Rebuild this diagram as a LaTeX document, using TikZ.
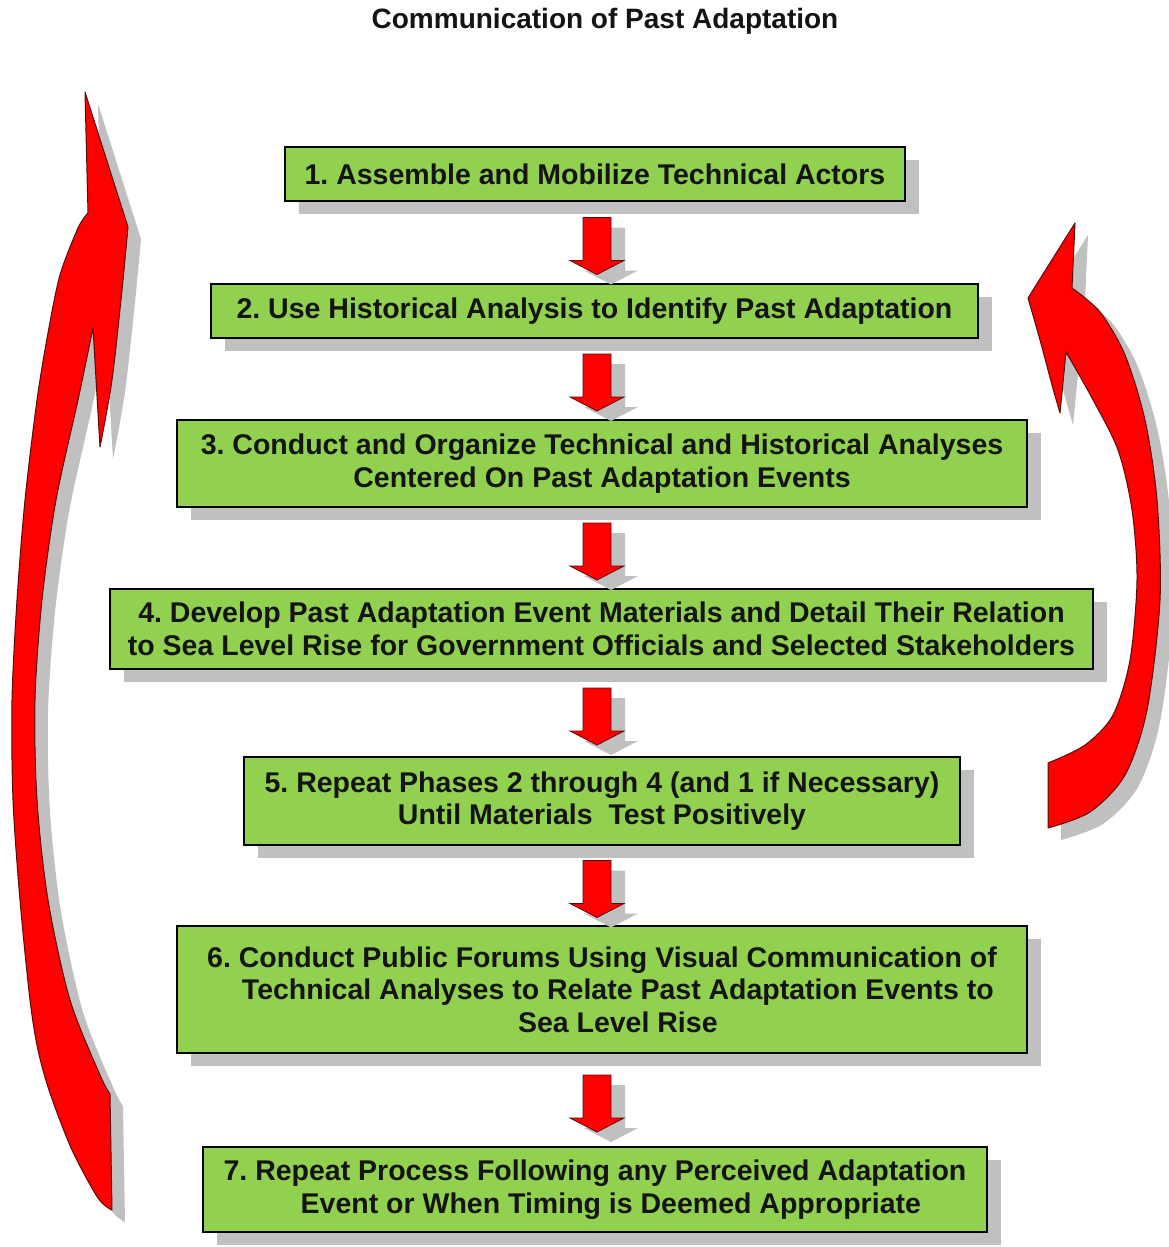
\documentclass[tikz,border=0pt]{standalone}
\usepackage{fontspec}
\setmainfont{Liberation Sans}
\usetikzlibrary{calc,shadows}
\frenchspacing
\definecolor{boxgreen}{RGB}{146,208,80}
\definecolor{shadowgray}{RGB}{192,192,192}
\definecolor{arrred}{RGB}{255,0,0}
\definecolor{arredge}{RGB}{90,10,10}
\definecolor{txt}{RGB}{20,20,20}
\newcommand\LoopArrowL{(85,92) -- (128,227)
  -- plot[smooth] coordinates {(128,227) (122,290) (112,380) (100,447)}
  -- (93,328)
  -- plot[smooth] coordinates {(93,328) (78,400) (56,500) (42,600) (35,700) (37,800) (48,900) (70,1000) (100,1075) (110,1094)}
  -- (112,1210)
  -- plot[smooth] coordinates {(112,1210) (98,1198) (72,1150) (50,1093) (38,1050) (30,1000) (20,900) (13,800) (12,700) (17,600) (25,500) (37,400) (48,333) (60,275) (78,228) (88,213)}
  -- cycle}
\newcommand\LoopArrowR{(1075,223) -- (1028,298)
  -- plot[smooth] coordinates {(1028,298) (1040,340) (1052,385) (1060,413)}
  -- (1066,352)
  -- plot[smooth] coordinates {(1066,352) (1092,398) (1118,450) (1132,510) (1137,580) (1130,660) (1113,715) (1085,745) (1048,763)}
  -- (1048,828)
  -- plot[smooth] coordinates {(1048,828) (1090,812) (1125,775) (1147,710) (1160,600) (1157,500) (1145,420) (1125,355) (1100,312) (1072,288)}
  -- cycle}
\begin{document}
\begin{tikzpicture}[x=1pt,y=-1pt,
  stepbox/.style={draw=black, line width=2.5pt, fill=boxgreen, align=center,
    font=\bfseries\fontsize{28.5}{32.5}\selectfont, text=txt, inner sep=0pt,
    general shadow={fill=shadowgray, shadow xshift=14pt, shadow yshift=-13pt}},
  bigarrow/.style={fill=arrred, draw=arredge, line width=1pt, line join=round},
  bigshadow/.style={fill=shadowgray},
  downarr/.pic={
    \fill[shadowgray, shift={(14,14)}] (-14,-29) -- (14,-29) -- (14,14) -- (27,14) -- (0,28) -- (-27,14) -- (-14,14) -- cycle;
    \filldraw[fill=arrred, draw=arredge, line width=0.8pt, line join=miter, shift={(0,4)}] (-14,-29) -- (14,-29) -- (14,14) -- (27,14) -- (0,28) -- (-27,14) -- (-14,14) -- cycle;
  }]
\useasboundingbox[fill=white] (0,0) rectangle (1169,1247);

% looping arrows (shadow first)
\fill[bigshadow, shift={(13,12)}] \LoopArrowL;
\fill[bigshadow, shift={(13,12)}] \LoopArrowR;
\filldraw[bigarrow] \LoopArrowL;
\filldraw[bigarrow] \LoopArrowR;

\node[font=\bfseries\fontsize{28}{32}\selectfont, text=txt] (title) at (605,21) {Communication of Past Adaptation};

\node[stepbox, minimum width=620pt, minimum height=54pt] (b1) at (595,174)
  {1. Assemble and Mobilize Technical Actors};
\node[stepbox, minimum width=767pt, minimum height=54pt] (b2) at (594.5,311)
  {2. Use Historical Analysis to Identify Past Adaptation};
\node[stepbox, minimum width=850pt, minimum height=87pt] (b3) at (602,463.5)
  {3. Conduct and Organize Technical and Historical Analyses\\Centered On Past Adaptation Events};
\node[stepbox, minimum width=983pt, minimum height=80pt] (b4) at (601.5,629)
  {4. Develop Past Adaptation Event Materials and Detail Their Relation\\to Sea Level Rise for Government Officials and Selected Stakeholders};
\node[stepbox, minimum width=716pt, minimum height=88pt] (b5) at (602,801)
  {5. Repeat Phases 2 through 4 (and 1 if Necessary)\\Until Materials\ \ Test Positively};
\node[stepbox, minimum width=850pt, minimum height=127pt] (b6) at (602,989.5)
  {6. Conduct Public Forums Using Visual Communication of\\\ \ \ \ Technical Analyses to Relate Past Adaptation Events to\\\ \ \ \ Sea Level Rise};
\node[stepbox, minimum width=784pt, minimum height=85pt] (b7) at (595,1189.5)
  {7. Repeat Process Following any Perceived Adaptation\\\ \ \ \ Event or When Timing is Deemed Appropriate};

\coordinate (ax) at (597,0);
\coordinate (m1) at ($(b1.south)!.5!(b2.north)$);
\coordinate (m2) at ($(b2.south)!.5!(b3.north)$);
\coordinate (m3) at ($(b3.south)!.5!(b4.north)$);
\coordinate (m4) at ($(b4.south)!.5!(b5.north)$);
\coordinate (m5) at ($(b5.south)!.5!(b6.north)$);
\coordinate (m6) at ($(b6.south)!.5!(b7.north)$);
\pic at (m1 -| ax) {downarr};
\pic at (m2 -| ax) {downarr};
\pic at (m3 -| ax) {downarr};
\pic at (m4 -| ax) {downarr};
\pic at (m5 -| ax) {downarr};
\pic at (m6 -| ax) {downarr};
\end{tikzpicture}
\end{document}
